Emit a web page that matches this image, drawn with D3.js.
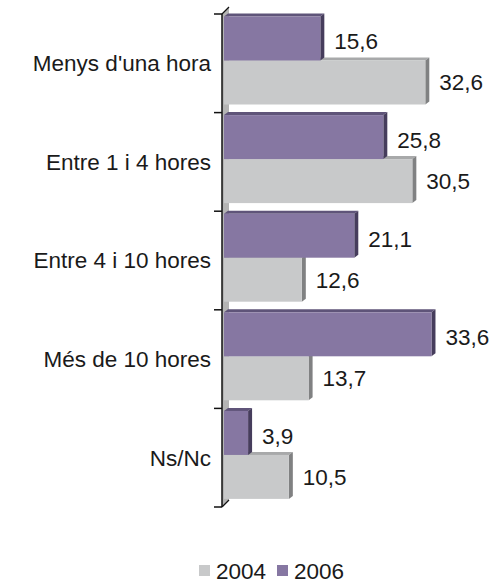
<!DOCTYPE html>
<html>
<head>
<meta charset="utf-8">
<script src="https://cdn.jsdelivr.net/npm/d3@7"></script>
<style>
  html, body { margin: 0; padding: 0; background: #fff; }
  svg { display: block; }
  text { font-family: "Liberation Sans", Arial, sans-serif; fill: #1a1a1a; }
</style>
</head>
<body>
<svg id="chart" width="502" height="587"></svg>
<script>
// Time spent categories (Catalan labels)
const categories = ["Menys d'una hora", "Entre 1 i 4 hores", "Entre 4 i 10 hores", "Més de 10 hores", "Ns/Nc"];
const seriesNames = ["2006", "2004"];
const values2006 = [15.6, 25.8, 21.1, 33.6, 3.9];
const values2004 = [32.6, 30.5, 12.6, 13.7, 10.5];
const legendOrder = ["2004", "2006"];

const colors = {
  "2006": { front: "#8677a2", top: "#5f5479", side: "#463d5c" },
  "2004": { front: "#c8c9ca", top: "#a8a9aa", side: "#808182" }
};

const svg = d3.select("#chart");
const fmt = v => d3.format(".1f")(v).replace(".", ",");
const fontSize = 22.5;

const axisX = 222, wallDepth = 7;
const y = d3.scaleBand().domain(categories).range([14, 507]);
const ySub = d3.scaleBand().domain(seriesNames).range([2.5, 90.5]);
const x = d3.scaleLinear().domain([0, 40]).range([224, 471]);
const dx = 4, dy = 3;

// side wall of the 3D plot area
svg.append("polygon")
  .attr("points", [[axisX, 14], [axisX + wallDepth, 14 - wallDepth], [axisX + wallDepth, 507 - wallDepth], [axisX, 507]].join(" "))
  .attr("fill", "#b4b4b4");

const rows = [];
categories.forEach((c, i) => {
  rows.push({ cat: c, s: "2004", v: values2004[i] });
  rows.push({ cat: c, s: "2006", v: values2006[i] });
});

const bars = svg.append("g").selectAll("g").data(rows).join("g");
bars.each(function(d) {
  const g = d3.select(this);
  const y0 = y(d.cat) + ySub(d.s);
  const h = ySub.bandwidth();
  const x0 = x(0), x1 = x(d.v);
  const col = colors[d.s];
  g.append("polygon")
    .attr("points", [[x0, y0], [x0 + dx, y0 - dy], [x1 + dx, y0 - dy], [x1, y0]].join(" "))
    .attr("fill", col.top);
  g.append("polygon")
    .attr("points", [[x1, y0], [x1 + dx, y0 - dy], [x1 + dx, y0 + h - dy], [x1, y0 + h]].join(" "))
    .attr("fill", col.side);
  g.append("rect")
    .attr("x", x0).attr("y", y0).attr("width", x1 - x0).attr("height", h)
    .attr("fill", col.front);
});

// value labels
svg.append("g").selectAll("text").data(rows).join("text")
  .attr("x", d => x(d.v) + dx + 10)
  .attr("y", d => y(d.cat) + ySub(d.s) + ySub.bandwidth() / 2 + (d.s === "2006" ? 3 : 0))
  .attr("dy", "0.35em")
  .attr("font-size", fontSize)
  .text(d => fmt(d.v));

// category axis
const axisG = svg.append("g");
axisG.append("line").attr("x1", axisX).attr("x2", axisX).attr("y1", 14).attr("y2", 507)
  .attr("stroke", "#111").attr("stroke-width", 1.5);
axisG.append("line").attr("x1", axisX).attr("y1", 14).attr("x2", axisX + wallDepth).attr("y2", 14 - wallDepth)
  .attr("stroke", "#111").attr("stroke-width", 1.2);
axisG.append("line").attr("x1", axisX).attr("y1", 507).attr("x2", axisX + wallDepth).attr("y2", 507 - wallDepth)
  .attr("stroke", "#111").attr("stroke-width", 1.2);
const tickYs = categories.map(c => y(c)).concat([y.range()[1]]);
axisG.selectAll("line.tick").data(tickYs).join("line").attr("class", "tick")
  .attr("x1", axisX - 8).attr("x2", axisX).attr("y1", d => d).attr("y2", d => d)
  .attr("stroke", "#111").attr("stroke-width", 1.5);
axisG.selectAll("text").data(categories).join("text")
  .attr("x", 211).attr("y", d => y(d) + y.bandwidth() / 2)
  .attr("dy", "0.35em").attr("text-anchor", "end")
  .attr("font-size", fontSize)
  .text(d => d);

// legend
const legendX = { "2004": 199, "2006": 277 };
const leg = svg.append("g").selectAll("g").data(legendOrder).join("g");
leg.append("rect").attr("x", d => legendX[d]).attr("y", 565).attr("width", 11).attr("height", 11)
  .attr("fill", d => colors[d].front);
leg.append("text").attr("x", d => legendX[d] + 17).attr("y", 571).attr("dy", "0.35em")
  .attr("font-size", fontSize).text(d => d);
</script>
</body>
</html>
